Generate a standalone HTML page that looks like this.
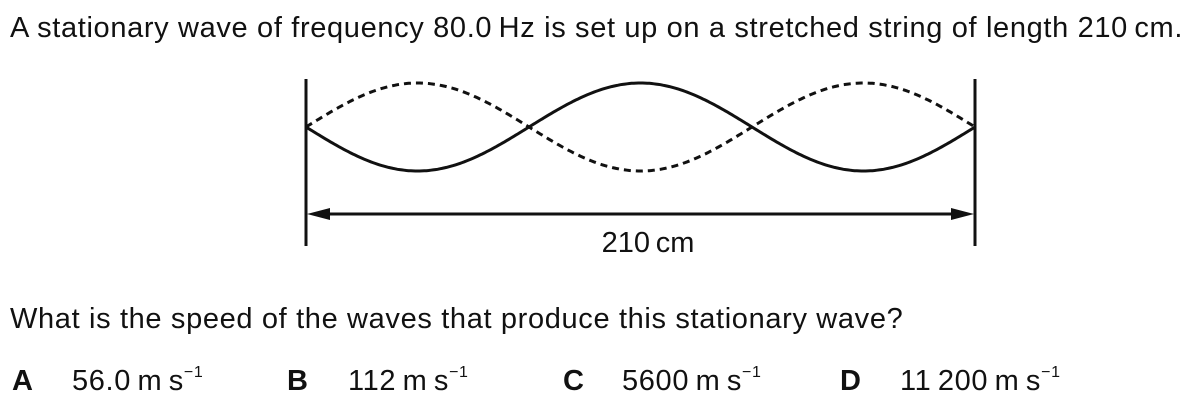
<!DOCTYPE html>
<html><head><meta charset="utf-8"><style>
html,body{margin:0;padding:0;background:#fff;}
body{width:1197px;height:408px;position:relative;overflow:hidden;font-family:"Liberation Sans",Arial,sans-serif;color:#111;}
.t{position:absolute;font-size:29px;white-space:nowrap;line-height:1;letter-spacing:0.65px;}
sup{font-size:16px;vertical-align:0;position:relative;top:-13px;}
b{font-weight:bold;}
</style></head><body>
<div class="t" style="left:10px;top:14px;">A stationary wave of frequency 80.0&#8201;Hz is set up on a stretched string of length 210&#8201;cm.</div>
<svg width="1197" height="408" style="position:absolute;left:0;top:0">
<line x1="306" y1="79" x2="306" y2="246" stroke="#111" stroke-width="3"/>
<line x1="975" y1="79" x2="975" y2="246" stroke="#111" stroke-width="3"/>
<path id="solid" fill="none" stroke="#111" stroke-width="3"/>
<path id="dashed" fill="none" stroke="#111" stroke-width="3" stroke-dasharray="7,5"/>
<line x1="318" y1="214" x2="963" y2="214" stroke="#111" stroke-width="3"/>
<polygon points="307,214 330,208 330,220" fill="#111"/>
<polygon points="974,214 951,208 951,220" fill="#111"/>
<text x="648" y="252" text-anchor="middle" font-size="29" font-family="Liberation Sans, Arial, sans-serif" fill="#111">210&#8201;cm</text>
</svg>
<div class="t" style="left:10px;top:305px;">What is the speed of the waves that produce this stationary wave?</div>
<div class="t" style="left:12px;top:367px;"><b>A</b></div>
<div class="t" style="left:72px;top:367px;">56.0&#8201;m&#8201;s<sup>&minus;1</sup></div>
<div class="t" style="left:287px;top:367px;"><b>B</b></div>
<div class="t" style="left:348px;top:367px;">112&#8201;m&#8201;s<sup>&minus;1</sup></div>
<div class="t" style="left:563px;top:367px;"><b>C</b></div>
<div class="t" style="left:622px;top:367px;">5600&#8201;m&#8201;s<sup>&minus;1</sup></div>
<div class="t" style="left:840px;top:367px;"><b>D</b></div>
<div class="t" style="left:900px;top:367px;">11&#8201;200&#8201;m&#8201;s<sup>&minus;1</sup></div>
<script>
const loops=[3];
const amplitude=[44];
const x0=306,x1=975,yc=127;
function build(sign){let d='';const n=300;for(let i=0;i<=n;i++){const x=x0+(x1-x0)*i/n;const y=yc+sign*amplitude[0]*Math.sin(Math.PI*loops[0]*i/n);d+=(i?'L':'M')+x.toFixed(1)+','+y.toFixed(1);}return d;}
document.getElementById('solid').setAttribute('d',build(1));
document.getElementById('dashed').setAttribute('d',build(-1));
</script>
</body></html>
